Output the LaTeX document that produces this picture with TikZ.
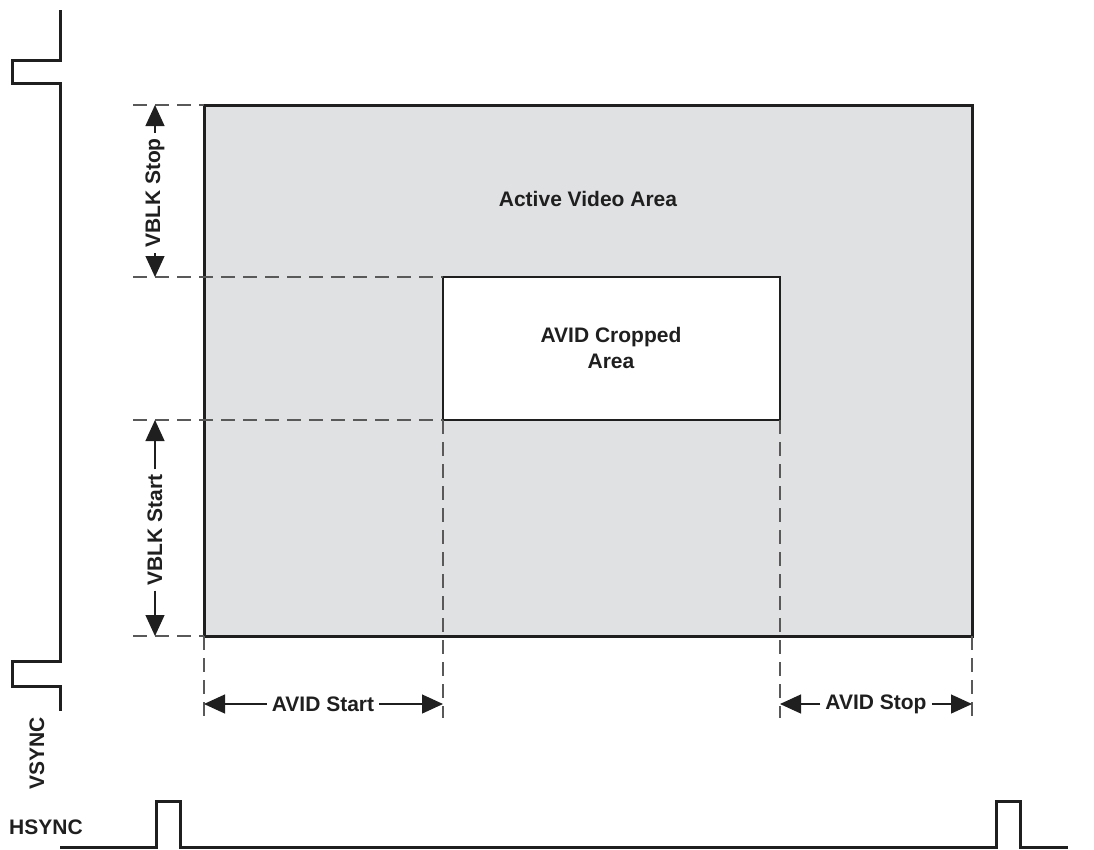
\documentclass[tikz,border=0pt]{standalone}
\usepackage{fontspec}
\setmainfont{Liberation Sans}
\usetikzlibrary{arrows.meta}
\begin{document}
\begin{tikzpicture}[x=1pt,y=-1pt,
  thickline/.style={line width=3pt, line join=miter, color=black!88},
  dashline/.style={line width=1.2pt, dash pattern=on 14pt off 8pt, color=black!65},
  dim/.style={line width=1.2pt, color=black!88, -{Triangle[length=21pt,width=19pt]}},
  lbl/.style={font=\fontsize{21}{25}\selectfont\bfseries, inner sep=5pt, text=black!88},
  area/.style={draw=black!88, line width=3pt, anchor=north west, inner sep=0pt, outer sep=0pt}]
\useasboundingbox (0,0) rectangle (1094,849);

% areas
\node[area, fill={rgb,255:red,224;green,225;blue,227}, minimum width=768pt, minimum height=531pt] (active) at (204,105) {};
\node[area, fill=white, line width=2.4pt, minimum width=337pt, minimum height=143pt] (crop) at (443,277) {};
\node[lbl] (activelbl) at (588,199) {Active Video Area};
\node[lbl, align=center, font=\fontsize{21}{26}\selectfont\bfseries] (croplbl) at (611,348) {AVID Cropped\\Area};

% extension dashed lines
\coordinate (h1) at (133,105);
\coordinate (h2) at (133,277);
\coordinate (h3) at (133,420);
\coordinate (h4) at (133,636);
\draw[dashline] (h1) -- (active.north west);
\draw[dashline] (h2) -- (crop.north west);
\draw[dashline] (h3) -- (crop.south west);
\draw[dashline] (h4) -- (active.south west);
\coordinate (v1) at (204,718);
\coordinate (v2) at (443,718);
\coordinate (v3) at (780,718);
\coordinate (v4) at (972,718);
\draw[dashline] (active.south west) -- (v1);
\draw[dashline] (crop.south west) -- (v2);
\draw[dashline] (crop.south east) -- (v3);
\draw[dashline] (active.south east) -- (v4);

% vertical dimensions
\coordinate (vs1) at (155,105);
\coordinate (vs2) at (155,277);
\coordinate (vb1) at (155,420);
\coordinate (vb2) at (155,636);
\node[lbl, rotate=90] (vstop) at (155,193) {VBLK Stop};
\node[lbl, rotate=90] (vstart) at (155,530) {VBLK Start};
\draw[dim] (vstop.east) -- (vs1);
\draw[dim] (vstop.west) -- (vs2);
\draw[dim] (vstart.east) -- (vb1);
\draw[dim] (vstart.west) -- (vb2);

% horizontal dimensions
\coordinate (as1) at (204,704);
\coordinate (as2) at (443,704);
\coordinate (ap1) at (780,704);
\coordinate (ap2) at (972,704);
\node[lbl] (astart) at (323,704) {AVID Start};
\node[lbl] (astop) at (876,704) {AVID Stop};
\draw[dim] (astart.west) -- (as1);
\draw[dim] (astart.east) -- (as2);
\draw[dim] (astop.west) -- (ap1);
\draw[dim] (astop.east) -- (ap2);

% VSYNC waveform
\draw[thickline] (60,10) -- (60,60) -- (12,60) -- (12,83) -- (60,83) -- (60,661) -- (12,661) -- (12,686) -- (60,686) -- (60,711);
\node[lbl, rotate=90] (vsync) at (37,753) {VSYNC};

% HSYNC waveform
\draw[thickline] (60,847) -- (156,847) -- (156,801) -- (180,801) -- (180,847) -- (996,847) -- (996,801) -- (1020,801) -- (1020,847) -- (1068,847);
\node[lbl] (hsync) at (46,827) {HSYNC};
\end{tikzpicture}
\end{document}
